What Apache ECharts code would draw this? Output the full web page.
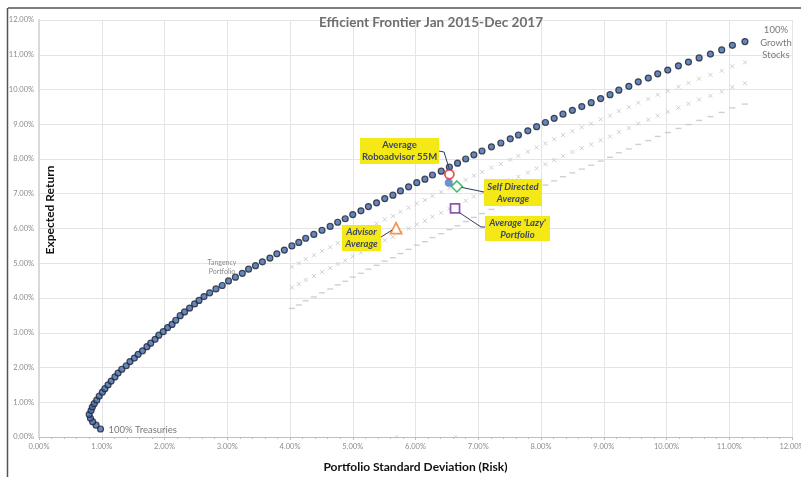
<!DOCTYPE html>
<html>
<head>
<meta charset="utf-8">
<script src="https://cdn.jsdelivr.net/npm/echarts@6/dist/echarts.min.js"></script>
<style>
  html, body { margin: 0; padding: 0; background: #fff; }
  #chart { width: 801px; height: 477px; }
</style>
</head>
<body>
<div id="chart"></div>
<script>
// efficient frontier (risk %, return %)
const frontierRisk = [
    0.98, 0.91, 0.855, 0.82, 0.80, 0.83, 0.85, 0.88, 0.92, 0.96,
    1.01, 1.05, 1.10, 1.15, 1.21, 1.26, 1.32, 1.39, 1.45, 1.52,
    1.58, 1.65, 1.72, 1.78, 1.85, 1.91, 1.98, 2.05, 2.12, 2.18,
    2.25, 2.32, 2.40, 2.48, 2.55, 2.63, 2.72, 2.82, 2.92, 3.02,
    3.13, 3.24, 3.34, 3.45, 3.56, 3.68, 3.79, 3.91, 4.03, 4.14,
    4.25, 4.38, 4.51, 4.64, 4.76, 4.88, 5.00, 5.13, 5.25, 5.38,
    5.51, 5.64, 5.76, 5.89, 6.02, 6.15, 6.27, 6.41, 6.54, 6.67,
    6.80, 6.93, 7.06, 7.21, 7.36, 7.51, 7.64, 7.79, 7.93, 8.07,
    8.21, 8.35, 8.50, 8.65, 8.80, 8.95, 9.10, 9.24, 9.40, 9.55,
    9.71, 9.86, 10.02, 10.19, 10.35, 10.52, 10.70, 10.88, 11.05, 11.25
];
const frontierReturn = [
    0.23, 0.34, 0.44, 0.54, 0.65, 0.76, 0.86, 0.96, 1.06, 1.18,
    1.29, 1.39, 1.50, 1.61, 1.73, 1.84, 1.95, 2.05, 2.17, 2.27,
    2.38, 2.48, 2.60, 2.70, 2.81, 2.93, 3.03, 3.15, 3.24, 3.36,
    3.49, 3.60, 3.71, 3.83, 3.93, 4.04, 4.15, 4.26, 4.36, 4.49,
    4.60, 4.71, 4.83, 4.93, 5.04, 5.15, 5.27, 5.38, 5.50, 5.60,
    5.72, 5.83, 5.95, 6.06, 6.18, 6.28, 6.40, 6.51, 6.63, 6.74,
    6.86, 6.96, 7.08, 7.20, 7.32, 7.42, 7.54, 7.65, 7.77, 7.88,
    8.00, 8.12, 8.23, 8.35, 8.46, 8.58, 8.69, 8.81, 8.93, 9.05,
    9.17, 9.29, 9.40, 9.51, 9.62, 9.74, 9.85, 9.98, 10.09, 10.22,
    10.33, 10.45, 10.56, 10.68, 10.79, 10.91, 11.02, 11.14, 11.27, 11.38
];

// grey frontiers start at the 4.03% point and share its risk values
const feeRisk = frontierRisk.slice(48);
const feeReturnA = [
    4.90, 5.00, 5.12, 5.23, 5.35, 5.46, 5.58, 5.68, 5.80, 5.91,
    6.03, 6.14, 6.26, 6.36, 6.48, 6.60, 6.72, 6.82, 6.94, 7.05,
    7.17, 7.28, 7.40, 7.52, 7.63, 7.75, 7.86, 7.98, 8.09, 8.21,
    8.33, 8.45, 8.57, 8.69, 8.80, 8.91, 9.02, 9.14, 9.25, 9.38,
    9.49, 9.62, 9.73, 9.85, 9.96, 10.08, 10.19, 10.31, 10.42, 10.54,
    10.67, 10.78
];
const feeReturnB = [
    4.30, 4.40, 4.52, 4.63, 4.75, 4.86, 4.98, 5.08, 5.20, 5.31,
    5.43, 5.54, 5.66, 5.76, 5.88, 6.00, 6.12, 6.22, 6.34, 6.45,
    6.57, 6.68, 6.80, 6.92, 7.03, 7.15, 7.26, 7.38, 7.49, 7.61,
    7.73, 7.85, 7.97, 8.09, 8.20, 8.31, 8.42, 8.54, 8.65, 8.78,
    8.89, 9.02, 9.13, 9.25, 9.36, 9.48, 9.59, 9.71, 9.82, 9.94,
    10.07, 10.18
];
const feeReturnC = [
    3.70, 3.80, 3.92, 4.03, 4.15, 4.26, 4.38, 4.48, 4.60, 4.71,
    4.83, 4.94, 5.06, 5.16, 5.28, 5.40, 5.52, 5.62, 5.74, 5.85,
    5.97, 6.08, 6.20, 6.32, 6.43, 6.55, 6.66, 6.78, 6.89, 7.01,
    7.13, 7.25, 7.37, 7.49, 7.60, 7.71, 7.82, 7.94, 8.05, 8.18,
    8.29, 8.42, 8.53, 8.65, 8.76, 8.88, 8.99, 9.11, 9.22, 9.34,
    9.47, 9.58
];
const zeroMarks = [[5.70, 0], [6.64, 0]];

// averages
const roboPoint = [6.54, 7.56];
const roboBluePoint = [6.53, 7.32];
const selfDirectedPoint = [6.66, 7.21];
const lazyPoint = [6.63, 6.58];
const advisorPoint = [5.69, 6.01];

const FONT = 'Lato, "Open Sans", sans-serif';
const pairs = (xs, ys) => xs.map((x, i) => [x, ys[i]]);
const crossSymbol = 'path://M0,0L10,10M10,0L0,10';

const chart = echarts.init(document.getElementById('chart'), null, {renderer: 'canvas'});

const option = {
    backgroundColor: '#fff',
    animation: false,
    title: {
        text: 'Efficient Frontier Jan 2015-Dec 2017',
        left: 314,
        top: 11,
        textStyle: {fontFamily: FONT, fontSize: 13.6, fontWeight: 'bold', color: '#6e6e6e'}
    },
    grid: {left: 39, right: 9, top: 20, bottom: 40, containLabel: false, outerBoundsMode: 'none'},
    xAxis: {
        type: 'value',
        min: 0, max: 12, interval: 1,
        name: 'Portfolio Standard Deviation (Risk)',
        nameLocation: 'middle',
        nameGap: 24,
        nameTextStyle: {fontFamily: FONT, fontSize: 12, fontWeight: 'bold', color: '#111'},
        axisLine: {lineStyle: {color: '#bfbfbf', width: 1}},
        axisTick: {show: true, length: 3, lineStyle: {color: '#bfbfbf'}},
        minorTick: {show: true, splitNumber: 5, length: 2, lineStyle: {color: '#bfbfbf'}},
        axisLabel: {
            fontFamily: FONT, fontSize: 7.5, color: '#8c8c8c', margin: 6,
            formatter: v => v.toFixed(2) + '%'
        },
        splitLine: {show: true, lineStyle: {color: '#e4e4e4', width: 1}}
    },
    yAxis: {
        type: 'value',
        min: 0, max: 12, interval: 1,
        axisLine: {show: true, lineStyle: {color: '#d9d9d9', width: 2}},
        axisTick: {show: false},
        axisLabel: {
            fontFamily: FONT, fontSize: 7.5, color: '#8c8c8c', margin: 5,
            formatter: v => v.toFixed(2) + '%'
        },
        splitLine: {show: true, lineStyle: {color: '#e4e4e4', width: 1}}
    },
    series: [
        {
            name: 'fee A', type: 'scatter', data: pairs(feeRisk, feeReturnA),
            symbol: crossSymbol, symbolSize: 4,
            itemStyle: {color: 'none', borderColor: '#c4c4c4', borderWidth: 1}
        },
        {
            name: 'fee B', type: 'scatter', data: pairs(feeRisk, feeReturnB),
            symbol: crossSymbol, symbolSize: 4,
            itemStyle: {color: 'none', borderColor: '#c4c4c4', borderWidth: 1}
        },
        {
            name: 'fee C', type: 'scatter', data: pairs(feeRisk, feeReturnC),
            symbol: 'rect', symbolSize: [6, 1.4],
            itemStyle: {color: '#c4c4c4'}
        },
        {
            name: 'zero', type: 'scatter', data: zeroMarks,
            symbol: crossSymbol, symbolSize: 3,
            itemStyle: {color: 'none', borderColor: '#c4c4c4', borderWidth: 1}
        },
        {
            name: 'Frontier', type: 'scatter', data: pairs(frontierRisk, frontierReturn),
            symbol: 'circle', symbolSize: 6,
            itemStyle: {color: '#4468a8', borderColor: '#1c2436', borderWidth: 1.2}
        },
        {
            name: 'Robo blue', type: 'scatter', data: [roboBluePoint],
            symbol: 'circle', symbolSize: 8,
            itemStyle: {color: '#4a76c4'}
        },
        {
            name: 'Roboadvisor', type: 'scatter', data: [roboPoint],
            symbol: 'circle', symbolSize: 9,
            itemStyle: {color: '#fff', borderColor: '#e5262a', borderWidth: 1.8}
        },
        {
            name: 'Self Directed', type: 'scatter', data: [selfDirectedPoint],
            symbol: 'diamond', symbolSize: 11,
            itemStyle: {color: '#fff', borderColor: '#1ca64a', borderWidth: 1.6}
        },
        {
            name: 'Lazy', type: 'scatter', data: [lazyPoint],
            symbol: 'rect', symbolSize: 9,
            itemStyle: {color: '#fff', borderColor: '#7030a0', borderWidth: 1.8}
        },
        {
            name: 'Advisor', type: 'scatter', data: [advisorPoint],
            symbol: 'triangle', symbolSize: 11,
            itemStyle: {color: '#fff', borderColor: '#ed7d31', borderWidth: 1.8}
        }
    ]
};
chart.setOption(option);

// yellow call-out boxes with leader lines to their markers
const notes = [
    {lines: ['Average', 'Roboadvisor 55M'], italic: false, box: [360, 138, 79, 26],
     point: roboPoint, path: [[439, 151], [444, 152]], end: [0, -5]},
    {lines: ['Self Directed', 'Average'], italic: true, box: [484, 179, 58, 27],
     point: selfDirectedPoint, path: [[484, 192]], end: [5, 1]},
    {lines: ["Average 'Lazy'", 'Portfolio'], italic: true, box: [485, 216, 65, 25],
     point: lazyPoint, path: [[485, 227], [481, 227]], end: [4, 4]},
    {lines: ['Advisor', 'Average'], italic: true, box: [342, 225, 39, 26],
     point: advisorPoint, path: [[381, 237]], end: [-4, 2]}
];

const graphics = [
    {type: 'line', shape: {x1: 8, y1: 8, x2: 801, y2: 8}, style: {stroke: '#7f7f7f', lineWidth: 2}, z: 100},
    {type: 'line', shape: {x1: 7.5, y1: 8, x2: 7.5, y2: 477}, style: {stroke: '#555', lineWidth: 1.5}, z: 100},
    {type: 'text', x: 50, y: 210, rotation: Math.PI / 2, z: 96,
     style: {text: 'Expected Return', fill: '#111', font: 'bold 12px ' + FONT,
             align: 'center', verticalAlign: 'middle'}}
];

notes.forEach(n => {
    const p = chart.convertToPixel({gridIndex: 0}, n.point);
    const pts = n.path.concat([[p[0] + n.end[0], p[1] + n.end[1]]]);
    graphics.push({
        type: 'polyline', shape: {points: pts},
        style: {stroke: '#2e3b5a', lineWidth: 1, fill: null}, z: 90
    });
    const [bx, by, bw, bh] = n.box;
    graphics.push({
        type: 'rect', shape: {x: bx, y: by, width: bw, height: bh},
        style: {fill: '#f4e816'}, z: 95
    });
    graphics.push({
        type: 'text', x: bx + bw / 2, y: by + bh / 2, z: 96,
        style: {
            text: n.lines.join('\n'), fill: '#3d4866', align: 'center', verticalAlign: 'middle',
            font: (n.italic ? 'italic ' : '') + 'bold 9.5px ' + FONT, lineHeight: 12
        }
    });
});

const pTreas = chart.convertToPixel({gridIndex: 0}, [frontierRisk[0], frontierReturn[0]]);
const pGrowth = chart.convertToPixel({gridIndex: 0}, [frontierRisk[99], frontierReturn[99]]);
graphics.push(
    {type: 'text', x: pTreas[0] + 8, y: pTreas[1] + 1, z: 96,
     style: {text: '100% Treasuries', fill: '#7a7a7a', font: '9.5px ' + FONT, verticalAlign: 'middle'}},
    {type: 'text', x: pGrowth[0] + 31, y: pGrowth[1] + 1, z: 96,
     style: {text: '100%\nGrowth\nStocks', fill: '#7a7a7a', font: '9.5px ' + FONT,
             align: 'center', verticalAlign: 'middle', lineHeight: 12.5}},
    {type: 'text', x: 222, y: 267, z: 96,
     style: {text: 'Tangency\nPortfolio', fill: '#8a8a8a', font: '7px ' + FONT,
             align: 'center', verticalAlign: 'middle', lineHeight: 9}}
);

chart.setOption({graphic: graphics});
</script>
</body>
</html>
